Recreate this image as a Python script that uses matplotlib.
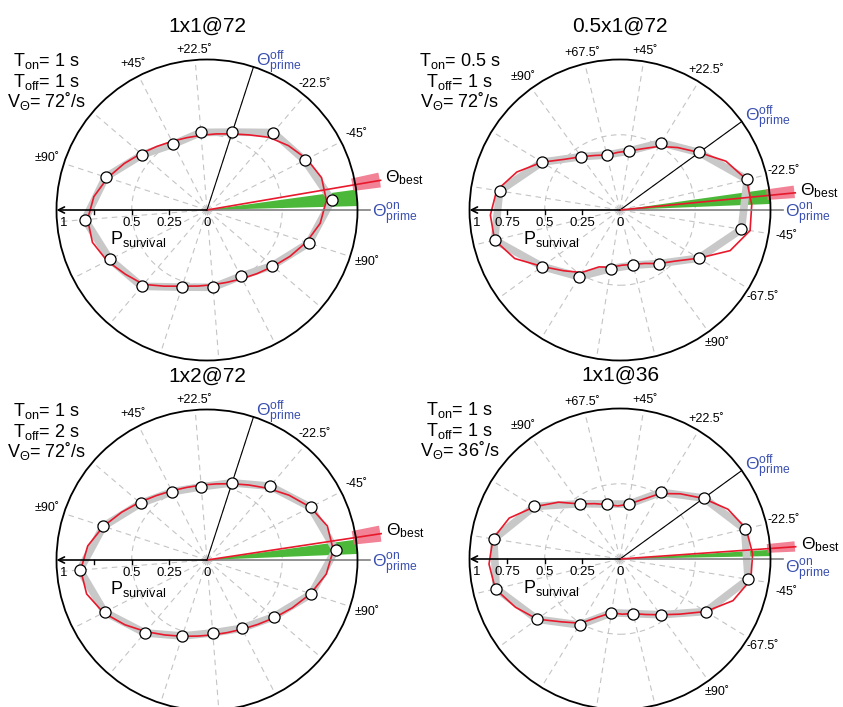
import numpy as np
import matplotlib
matplotlib.use('Agg')
import matplotlib.pyplot as plt
from matplotlib.patches import Circle, Wedge

plt.rcParams['font.family'] = ['Liberation Sans', 'DejaVu Sans']
plt.rcParams['mathtext.fontset'] = 'custom'
plt.rcParams['mathtext.rm'] = 'Liberation Sans'
plt.rcParams['mathtext.it'] = 'Liberation Sans:italic'

# ---------------- data ----------------
titles = ['1x1@72', '0.5x1@72', '1x2@72', '1x1@36']
t_on = ['1', '0.5', '1', '1']
t_off = ['1', '1', '2', '1']
v_theta = ['72', '72', '72', '36']

theta_off = [72, 36, 72, 36]          # deg, direction of theta_prime^off
theta_on = [0, 0, 0, 0]               # deg, direction of theta_prime^on
theta_best = [9.7, 5.6, 8.6, 4.0]
best_lo = [7.4, 3.9, 6.0, 2.4]
best_hi = [12.3, 8.0, 11.3, 5.8]
on_lo = [1.5, 2.3, 2.3, 1.1]
on_hi = [7.8, 8.0, 7.8, 3.5]

# marker spokes, relative to theta_off
rel_angles = [0, 22.5, 45, 67.5, 90, 112.5, 135, 157.5,
              180, 202.5, 225, 247.5, 270, 292.5, 315, 337.5]
p_surv_1 = [0.544, 0.517, 0.491, 0.566, 0.708, 0.814, 0.724, 0.667,
            0.539, 0.515, 0.494, 0.570, 0.711, 0.832, 0.728, 0.677]
p_surv_2 = [0.650, 0.524, 0.398, 0.376, 0.438, 0.608, 0.810, 0.857,
            0.639, 0.520, 0.394, 0.377, 0.440, 0.613, 0.817, 0.869]
p_surv_3 = [0.539, 0.488, 0.509, 0.580, 0.724, 0.848, 0.763, 0.637,
            0.531, 0.486, 0.509, 0.582, 0.729, 0.857, 0.772, 0.645]
p_surv_4 = [0.689, 0.520, 0.369, 0.376, 0.454, 0.668, 0.849, 0.846,
            0.681, 0.514, 0.362, 0.373, 0.458, 0.668, 0.862, 0.852]

# fitted curve, sampled every 11.25 deg relative to theta_off
fit_angles = [0, 11.25, 22.5, 33.75, 45, 56.25, 67.5, 78.75,
              90, 101.25, 112.5, 123.75, 135, 146.25, 157.5, 168.75,
              180, 191.25, 202.5, 213.75, 225, 236.25, 247.5, 258.75,
              270, 281.25, 292.5, 303.75, 315, 326.25, 337.5, 348.75]
fit_1 = [0.532, 0.509, 0.498, 0.499, 0.512, 0.538, 0.577, 0.631,
         0.694, 0.757, 0.796, 0.791, 0.745, 0.690, 0.650, 0.580,
         0.532, 0.509, 0.498, 0.499, 0.512, 0.538, 0.577, 0.631,
         0.694, 0.757, 0.796, 0.791, 0.745, 0.690, 0.635, 0.572]
fit_2 = [0.650, 0.565, 0.496, 0.434, 0.398, 0.383, 0.376, 0.399,
         0.438, 0.497, 0.608, 0.730, 0.830, 0.862, 0.857, 0.770,
         0.639, 0.550, 0.487, 0.403, 0.385, 0.367, 0.372, 0.391,
         0.440, 0.500, 0.613, 0.780, 0.875, 0.876, 0.865, 0.775]
fit_3 = [0.533, 0.509, 0.499, 0.501, 0.516, 0.545, 0.590, 0.650,
         0.724, 0.798, 0.842, 0.831, 0.772, 0.695, 0.626, 0.571,
         0.533, 0.509, 0.499, 0.501, 0.516, 0.545, 0.590, 0.650,
         0.724, 0.798, 0.842, 0.831, 0.772, 0.695, 0.626, 0.571]
fit_4 = [0.685, 0.590, 0.510, 0.420, 0.369, 0.353, 0.372, 0.405,
         0.452, 0.556, 0.665, 0.785, 0.855, 0.871, 0.852, 0.765,
         0.680, 0.569, 0.500, 0.410, 0.362, 0.367, 0.373, 0.406,
         0.458, 0.540, 0.668, 0.800, 0.880, 0.882, 0.862, 0.790]

p_surv = [p_surv_1, p_surv_2, p_surv_3, p_surv_4]
fits = [fit_1, fit_2, fit_3, fit_4]

# degree labels (relative to theta_off)
deg_angles_a = [22.5, 45, 90, -22.5, -45, -90]
deg_text_a = ['+22.5˚', '+45˚', '±90˚', '-22.5˚', '-45˚', '±90˚']
deg_angles_b = [22.5, 45, 67.5, 90, -22.5, -45, -67.5, -90]
deg_text_b = ['+22.5˚', '+45˚', '+67.5˚', '±90˚', '-22.5˚', '-45˚', '-67.5˚', '±90˚']

tick_vals = [0.25, 0.5, 0.75]
lab_vals_a = [0.955, 0.5, 0.25, 0]
lab_text_a = ['1', '0.5', '0.25', '0']
lab_vals_b = [0.955, 0.75, 0.5, 0.25, 0]
lab_text_b = ['1', '0.75', '0.5', '0.25', '0']

# ---------------- style ----------------
GRID = '#c4c4c4'
BAND = '#c8c8c8'
RED = '#e8192c'
PINK = '#f06c84'
GREEN = '#4cb83a'
BLUE = '#3a4fb0'
ONGRAY = '#808080'

W, H = 843, 707
PX = 150.5
centers = [(207, 210), (620, 210), (207, 560), (620, 559)]
on_label_dy = [-5.5, -5.5, -5.5, -11]   # points, keeps the on label clear of theta_best
deg_nudge = {(3, -45): (0, -5)}         # points, small shift so labels don't collide


def xy(ang, r):
    a = np.deg2rad(np.asarray(ang, dtype=float))
    r = np.asarray(r, dtype=float)
    return r * np.cos(a), r * np.sin(a)


fig = plt.figure(figsize=(W / 100, H / 100), dpi=100)

for i in range(4):
    ax = fig.add_axes([0, 0, 1, 1])
    cx, cy = centers[i]
    ax.set_xlim(-cx / PX, (W - cx) / PX)
    ax.set_ylim(-(H - cy) / PX, cy / PX)
    ax.axis('off')
    off = theta_off[i]

    # dashed grid
    for k in range(16):
        gx, gy = xy(off + 22.5 * k, [0, 1])
        ax.plot(gx, gy, color=GRID, lw=0.8, dashes=(5, 4), zorder=1)
    ax.add_patch(Circle((0, 0), 0.5, fill=False, ec=GRID, lw=0.8,
                        ls=(0, (5, 4)), zorder=1))

    # on-prime wedge and best CI band
    ax.add_patch(Wedge((0, 0), 1.0, on_lo[i], on_hi[i], fc=GREEN, ec='none', zorder=2))
    ax.add_patch(Wedge((0, 0), 1.165, best_lo[i], best_hi[i], width=0.185,
                       fc=PINK, ec='none', alpha=0.85, zorder=2))

    # data polygon and fit
    ang = [off + a for a in rel_angles]
    mx, my = xy(ang, p_surv[i])
    ax.plot(np.append(mx, mx[0]), np.append(my, my[0]), color=BAND, lw=5.5, zorder=3)
    fang = [off + a for a in fit_angles]
    fx, fy = xy(fang, fits[i])
    ax.plot(np.append(fx, fx[0]), np.append(fy, fy[0]), color=RED, lw=1.2, zorder=4)

    # direction lines
    ox, oy = xy(off, [0, 1])
    ax.plot(ox, oy, color='k', lw=0.8, zorder=5)
    nx, ny = xy(theta_on[i], [0, 1.08])
    ax.plot(nx, ny, color=ONGRAY, lw=1.2, zorder=5)
    bx, by = xy(theta_best[i], [0, 1.17])
    ax.plot(bx, by, color=RED, lw=1.2, zorder=5)

    # outer circle and survival axis
    ax.add_patch(Circle((0, 0), 1.0, fill=False, ec='k', lw=1.3, zorder=6))
    ax.annotate('', xy=(-1, 0), xytext=(0, 0),
                arrowprops=dict(arrowstyle='->', lw=1.2, color='k',
                                shrinkA=0, shrinkB=0, mutation_scale=11),
                zorder=6)
    for t in tick_vals:
        ax.plot([-t, -t], [0, -0.027], color='k', lw=1.0, zorder=6)

    ax.plot(mx, my, 'o', ms=8, mfc='white', mec='k', mew=0.9, ls='none', zorder=7)

    # texts
    if i in (0, 2):
        lv, lt, da, dt = lab_vals_a, lab_text_a, deg_angles_a, deg_text_a
    else:
        lv, lt, da, dt = lab_vals_b, lab_text_b, deg_angles_b, deg_text_b
    for v, s in zip(lv, lt):
        ax.text(-v, -0.085, s, fontsize=9.5, ha='center', va='center', zorder=8)
    for a, s in zip(da, dt):
        aa = off + a
        r = 1.06 + 0.06 * abs(np.cos(np.deg2rad(aa)))
        tx, ty = xy(aa, r)
        ax.annotate(s, xy=(tx, ty), xytext=deg_nudge.get((i, a), (0, 0)),
                    textcoords='offset points', fontsize=9,
                    ha='center', va='center', zorder=8)

    ax.text(0, 1.22, titles[i], fontsize=15, ha='center', va='center')
    ax.text(-1.065, 0.955, r'$\mathrm{T_{on}}$= ' + t_on[i] + ' s',
            fontsize=13, ha='center', va='baseline')
    ax.text(-1.065, 0.82, r'$\mathrm{T_{off}}$= ' + t_off[i] + ' s',
            fontsize=13, ha='center', va='baseline')
    ax.text(-1.065, 0.685, r'$\mathrm{V_{Θ}}$= ' + v_theta[i] + '˚/s',
            fontsize=13, ha='center', va='baseline')
    ax.text(-0.645, -0.225, r'$\mathrm{P_{survival}}$', fontsize=13,
            ha='left', va='baseline', zorder=8)

    ax.annotate(r'$\mathrm{Θ_{best}}$', xy=(bx[1], by[1]), xytext=(3.5, -1.5),
                textcoords='offset points', fontsize=12.5, ha='left', va='baseline')
    ax.annotate(r'$\mathrm{Θ^{on}_{prime}}$', xy=(nx[1], ny[1]), xytext=(2, on_label_dy[i]),
                textcoords='offset points', fontsize=12.5, ha='left', va='baseline',
                color=BLUE)
    ax.annotate(r'$\mathrm{Θ^{off}_{prime}}$', xy=(ox[1], oy[1]), xytext=(2, 0),
                textcoords='offset points', fontsize=12.5, ha='left', va='baseline',
                color=BLUE)

fig.savefig('out.png', dpi=100)
